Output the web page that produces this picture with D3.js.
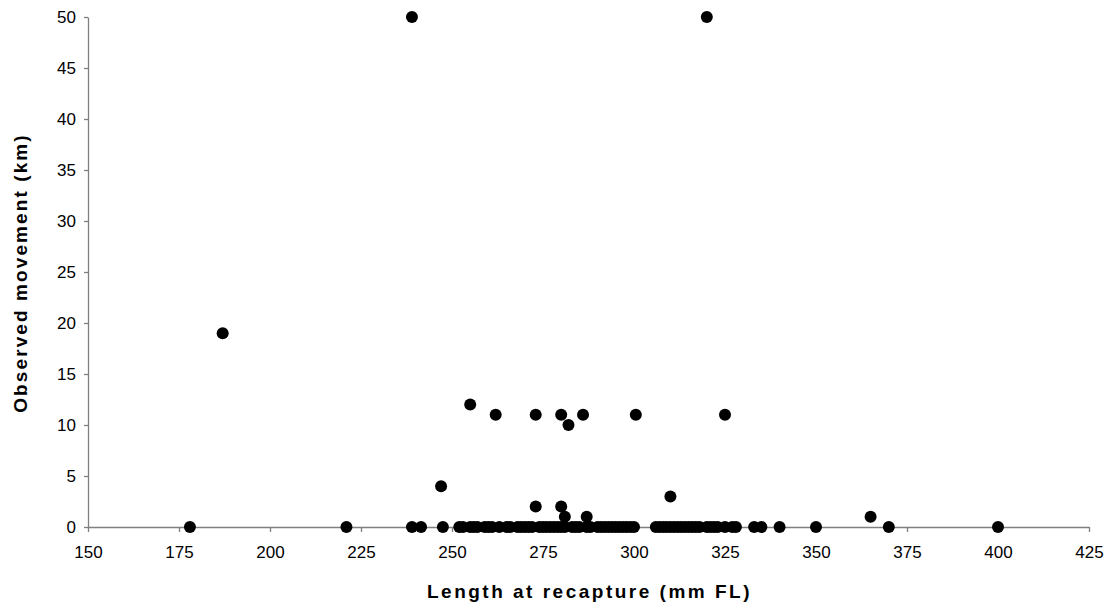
<!DOCTYPE html>
<html>
<head>
<meta charset="utf-8">
<script src="https://cdn.jsdelivr.net/npm/d3@7"></script>
<style>
  body { margin: 0; background: #fff; }
  svg { display: block; font-family: "Liberation Sans", Arial, sans-serif; }
</style>
</head>
<body>
<div id="chart"></div>
<script>
// fish recaptured with movement > 0
const lengthMoved   = [187, 239, 320, 255, 262, 273, 280, 282, 286, 300.5, 325, 247, 310, 273, 280, 281, 287, 365];
const movementMoved = [19, 50, 50, 12, 11, 11, 11, 10, 11, 11, 11, 4, 3, 2, 2, 1, 1, 1];

// fish recaptured at the release site (movement 0)
const lengthStayed = [178, 221, 239, 241.5, 247.5,
  252, 253, 255, 256, 257, 259, 260, 261, 263, 265, 266, 268, 269, 270, 271, 272,
  274, 275, 276, 277, 278, 279, 280, 281, 283, 284, 285, 287, 288, 290, 291, 292,
  293, 294, 295, 296, 297, 298, 299, 300,
  306, 307, 308, 309, 310, 311, 312, 313, 314, 315, 316, 317, 318, 320, 321, 322,
  323, 325, 327, 328, 333, 335, 340, 350, 370, 400];

const xTicks = d3.range(150, 426, 25);
const yTicks = d3.range(0, 51, 5);

const W = 1107, H = 610;
const points = lengthMoved.map((d, i) => ({ len: d, km: movementMoved[i] }))
  .concat(lengthStayed.map(d => ({ len: d, km: 0 })));

const svg = d3.select("#chart").append("svg").attr("width", W).attr("height", H);

const x = d3.scaleLinear().domain([150, 425]).range([88, 1089]);
const y = d3.scaleLinear().domain([0, 50]).range([527, 17]);

const axisColor = "#808080";

const gx = svg.append("g").attr("transform", `translate(0,${y(0)})`)
  .call(d3.axisBottom(x).tickValues(xTicks).tickSize(5).tickPadding(14).tickSizeOuter(0));
const gy = svg.append("g").attr("transform", `translate(${x(150)},0)`)
  .call(d3.axisLeft(y).tickValues(yTicks).tickSize(4).tickPadding(8).tickSizeOuter(0));

[gx, gy].forEach(g => {
  g.select(".domain").attr("stroke", axisColor).attr("stroke-width", 1.3);
  g.selectAll(".tick line").attr("stroke", axisColor).attr("stroke-width", 1.3);
  g.selectAll(".tick text").attr("fill", "#000")
    .attr("font-family", "'Liberation Sans', Arial, sans-serif").attr("font-size", 17);
});

svg.append("g").selectAll("circle")
  .data(points)
  .enter().append("circle")
  .attr("cx", d => x(d.len))
  .attr("cy", d => y(d.km))
  .attr("r", 6)
  .attr("fill", "#000");

svg.append("text")
  .attr("x", (x(150) + x(425)) / 2 + 1).attr("y", 598)
  .attr("text-anchor", "middle").attr("font-size", 19).attr("font-weight", "bold")
  .attr("letter-spacing", 2.5)
  .text("Length at recapture (mm FL)");

svg.append("text")
  .attr("transform", `translate(27,${y(25) + 1}) rotate(-90)`)
  .attr("text-anchor", "middle").attr("font-size", 19).attr("font-weight", "bold")
  .attr("letter-spacing", 2.1)
  .text("Observed movement (km)");
</script>
</body>
</html>
